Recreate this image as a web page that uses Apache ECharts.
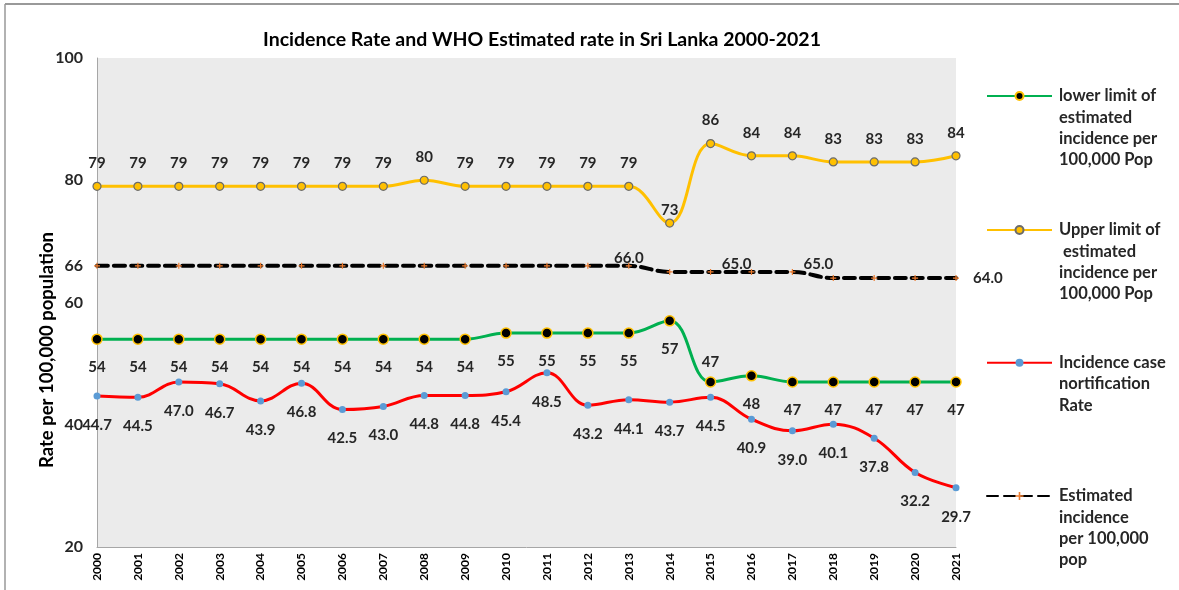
<!DOCTYPE html>
<html><head><meta charset="utf-8">
<script src="https://cdn.jsdelivr.net/npm/echarts@6/dist/echarts.min.js"></script>
<style>html,body{margin:0;padding:0;background:#fff}#c{width:1179px;height:590px}</style>
</head><body><div id="c"></div>
<script>
const years = ['2000','2001','2002','2003','2004','2005','2006','2007','2008','2009','2010','2011','2012','2013','2014','2015','2016','2017','2018','2019','2020','2021'];
const lowerLimit = [54,54,54,54,54,54,54,54,54,54,55,55,55,55,57,47,48,47,47,47,47,47];
const upperLimit = [79,79,79,79,79,79,79,79,80,79,79,79,79,79,73,86,84,84,83,83,83,84];
const notificationRate = [44.7,44.5,47.0,46.7,43.9,46.8,42.5,43.0,44.8,44.8,45.4,48.5,43.2,44.1,43.7,44.5,40.9,39.0,40.1,37.8,32.2,29.7];
const estimatedIncidence = [66,66,66,66,66,66,66,66,66,66,66,66,66,66,65,65,65,65,64,64,64,64];
const yTickLabels = [20,40,60,66,80,100];
const estimatedLabelYears = ['2013','2015','2017','2021'];

const NAME_LOWER = 'lower limit of\nestimated\nincidence per\n100,000 Pop';
const NAME_UPPER = 'Upper limit of\n estimated\nincidence per\n100,000 Pop';
const NAME_RATE = 'Incidence case\nnortification\nRate';
const NAME_EST = 'Estimated\nincidence\nper 100,000\npop';

const FONT = 'Lato';
const LBL = { fontFamily: FONT, fontWeight: 'bold', fontSize: 15, color: '#262626' };

const chart = echarts.init(document.getElementById('c'));

const lowerData = lowerLimit.map((v, i) => i === 15
  ? { value: v, label: { position: 'top', distance: 7 } } : v);
const upperData = upperLimit.map((v, i) => i === 14
  ? { value: v, label: { distance: 1 } } : v);
const estData = estimatedIncidence.map((v, i) => {
  const y = years[i];
  if (!estimatedLabelYears.includes(y)) return v;
  if (y === '2021') return { value: v, label: { show: true, position: 'right', distance: 14 } };
  if (y === '2013') return { value: v, label: { show: true, position: 'top', distance: 0, offset: [0, 3] } };
  return { value: v, label: { show: true, position: 'top', distance: 0, offset: [26, 3] } };
});

function legendFor(name, top) {
  return {
    data: [name], left: 986, top: top, padding: 0, orient: 'vertical',
    itemWidth: 65, itemHeight: 10, itemGap: 0, selectedMode: false,
    // leading blank lines keep the first text line level with the icon
    formatter: n => '\n'.repeat(n.split('\n').length - 1) + n,
    textStyle: { fontFamily: FONT, fontWeight: 'bold', fontSize: 16.5, color: '#262626',
      lineHeight: 21.3, padding: [0, 0, 0, 2] }
  };
}

chart.setOption({
  animation: false,
  backgroundColor: '#fff',
  title: {
    text: 'Incidence Rate and WHO Estimated rate in Sri Lanka 2000-2021',
    left: 537, top: 25, textAlign: 'center',
    textStyle: { fontFamily: FONT, fontWeight: 'bold', fontSize: 19.5, color: '#000' }
  },
  legend: [
    legendFor(NAME_LOWER, 21.5),
    legendFor(NAME_UPPER, 155.5),
    legendFor(NAME_RATE, 309.5),
    legendFor(NAME_EST, 421.5)
  ],
  grid: { left: 97, right: 223, top: 58, bottom: 43, show: true, backgroundColor: '#EBEBEB', borderWidth: 0 },
  xAxis: {
    type: 'category', data: years, boundaryGap: false,
    axisLine: { lineStyle: { color: '#A6A6A6', width: 1 } },
    axisTick: { show: false },
    axisLabel: { rotate: 90, interval: 0, margin: 6, fontFamily: FONT, fontWeight: 'bold', fontSize: 12, color: '#000' }
  },
  yAxis: {
    type: 'value', min: 20, max: 100, interval: 20,
    axisLine: { show: true, lineStyle: { color: '#A6A6A6', width: 1 } },
    axisTick: { show: false },
    splitLine: { show: false },
    axisLabel: { customValues: yTickLabels, margin: 14, fontFamily: FONT, fontWeight: 'bold', fontSize: 16, color: '#262626' }
  },
  graphic: [
    { type: 'line', shape: { x1: 5, y1: 4, x2: 1179, y2: 4 }, style: { stroke: '#999', lineWidth: 2 }, silent: true },
    { type: 'line', shape: { x1: 5, y1: 4, x2: 5, y2: 590 }, style: { stroke: '#999', lineWidth: 1.5 }, silent: true },
    { type: 'text', x: 47, y: 350, rotation: Math.PI / 2,
      style: { text: 'Rate per 100,000 population', fontFamily: FONT, fontWeight: 'bold', fontSize: 18.5, fill: '#000',
        align: 'center', verticalAlign: 'middle' } }
  ],
  series: [
    {
      name: NAME_EST, type: 'line', data: estData, smooth: 0.4, z: 2,
      lineStyle: { color: '#000', width: 4, type: [11, 6], cap: 'round' },
      symbol: 'path://M2,0 L3,0 L3,2 L5,2 L5,3 L3,3 L3,5 L2,5 L2,3 L0,3 L0,2 L2,2 Z', symbolSize: 6,
      itemStyle: { color: '#ED7D31' },
      label: { show: false, ...LBL, formatter: p => p.value.toFixed(1) }
    },
    {
      name: NAME_UPPER, type: 'line', data: upperData, smooth: 0.4, z: 3,
      lineStyle: { color: '#FFC000', width: 3 },
      symbol: 'circle', symbolSize: 8,
      itemStyle: { color: '#FFC000', borderColor: '#6B6B6B', borderWidth: 1.2 },
      label: { show: true, position: 'top', distance: 11, ...LBL }
    },
    {
      name: NAME_LOWER, type: 'line', data: lowerData, smooth: 0.4, z: 3,
      lineStyle: { color: '#00B050', width: 3 },
      symbol: 'circle', symbolSize: 10,
      itemStyle: { color: '#000', borderColor: '#FFC000', borderWidth: 1.5 },
      label: { show: true, position: 'bottom', distance: 15, ...LBL }
    },
    {
      name: NAME_RATE, type: 'line', data: notificationRate, smooth: 0.4, z: 3,
      lineStyle: { color: '#FF0000', width: 3 },
      symbol: 'circle', symbolSize: 7,
      itemStyle: { color: '#5B9BD5' },
      label: { show: true, position: 'bottom', distance: 18, ...LBL, formatter: p => p.value.toFixed(1) }
    }
  ]
});
</script></body></html>
